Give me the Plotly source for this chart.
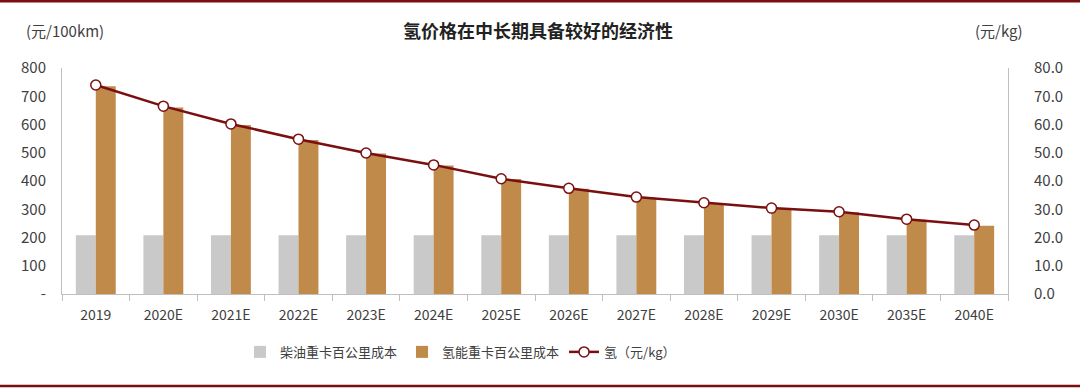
import plotly.graph_objects as go

categories = ["2019", "2020E", "2021E", "2022E", "2023E", "2024E", "2025E",
              "2026E", "2027E", "2028E", "2029E", "2030E", "2035E", "2040E"]
diesel_cost = [208, 208, 208, 208, 208, 208, 208, 208, 208, 208, 208, 208, 208, 208]
hydrogen_truck_cost = [735, 660, 598, 545, 497, 455, 407, 373, 341, 320, 303, 289, 263, 242]
hydrogen_price = [74.0, 66.5, 60.2, 54.8, 49.9, 45.7, 40.8, 37.4, 34.3, 32.3, 30.4, 29.1, 26.5, 24.4]

left_ticks = [0, 100, 200, 300, 400, 500, 600, 700, 800]
left_tick_text = ["-", "100", "200", "300", "400", "500", "600", "700", "800"]
right_ticks = [0, 10, 20, 30, 40, 50, 60, 70, 80]
right_tick_text = ["0.0", "10.0", "20.0", "30.0", "40.0", "50.0", "60.0", "70.0", "80.0"]

FONT = "Noto Sans CJK SC, Noto Sans, sans-serif"
TXT = "#404040"
DARKRED = "#7A0F12"
M_T, M_B, M_L, M_R = 68, 95, 62, 72
PLOT_H = 389 - M_T - M_B
PLOT_W = 1080 - M_L - M_R

fig = go.Figure()
fig.add_trace(go.Bar(x=categories, y=diesel_cost, name="柴油重卡百公里成本",
                     marker=dict(color="#C9C9C9", line=dict(width=0))))
fig.add_trace(go.Bar(x=categories, y=hydrogen_truck_cost, name="氢能重卡百公里成本",
                     marker=dict(color="#C08A4A", line=dict(width=0))))
fig.add_trace(go.Scatter(x=categories, y=hydrogen_price, name="氢（元/kg）", yaxis="y2",
                         mode="lines+markers",
                         line=dict(color=DARKRED, width=2.5),
                         marker=dict(size=10, color="white", line=dict(color=DARKRED, width=1.5))))

fig.update_layout(
    template="none",
    width=1080, height=389,
    margin=dict(l=M_L, r=M_R, t=M_T, b=M_B, autoexpand=False),
    paper_bgcolor="white", plot_bgcolor="white",
    font=dict(family=FONT, size=14, color=TXT),
    barmode="group", bargap=0.41, bargroupgap=0,
    showlegend=True,
    legend=dict(orientation="h", x=(240 - M_L) / PLOT_W, xanchor="left", y=-0.19, yanchor="top",
                font=dict(size=13, color=TXT), traceorder="normal", itemwidth=30,
                tracegroupgap=0),
    xaxis=dict(type="category", range=[-0.5, len(categories) - 0.5],
               showline=True, linecolor="#BFBFBF", linewidth=1,
               ticks="outside", tickson="boundaries", ticklen=6, tickcolor="#BFBFBF",
               tickfont=dict(size=14, color=TXT), showgrid=False, automargin=False,
               ticklabelstandoff=8),
    yaxis=dict(range=[0, 800], tickvals=left_ticks, ticktext=left_tick_text,
               showline=True, linecolor="#BFBFBF", linewidth=1, showgrid=False,
               tickfont=dict(size=15, color=TXT), zeroline=False, automargin=False,
               ticks="", ticklabelstandoff=12),
    yaxis2=dict(range=[0, 80], tickvals=right_ticks, ticktext=right_tick_text,
                overlaying="y", side="right", showline=True, linecolor="#BFBFBF",
                linewidth=1, showgrid=False, tickfont=dict(size=15, color=TXT),
                zeroline=False, automargin=False, ticks="", ticklabelstandoff=22),
)

fig.add_annotation(text="<b>氢价格在中长期具备较好的经济性</b>", xref="paper", yref="paper",
                   x=(538 - M_L) / PLOT_W, y=1.0, yshift=38, xanchor="center", yanchor="middle",
                   showarrow=False, font=dict(size=18, color="#222222"))
fig.add_annotation(text="(元/100km)", xref="paper", yref="paper", x=0, xshift=-38,
                   y=1.0, yshift=38, xanchor="left", yanchor="middle",
                   showarrow=False, font=dict(size=15, color=TXT))
fig.add_annotation(text="(元/kg)", xref="paper", yref="paper", x=1.0, xshift=17,
                   y=1.0, yshift=38, xanchor="right", yanchor="middle",
                   showarrow=False, font=dict(size=15, color=TXT))

# dark red rules at top and bottom of the page
fig.add_shape(type="line", xref="paper", yref="paper", x0=-0.07, x1=1.08,
              y0=(PLOT_H + M_T - 1) / PLOT_H, y1=(PLOT_H + M_T - 1) / PLOT_H,
              line=dict(color=DARKRED, width=3))
fig.add_shape(type="line", xref="paper", yref="paper", x0=-0.07, x1=1.08,
              y0=-(M_B - 3) / PLOT_H, y1=-(M_B - 3) / PLOT_H,
              line=dict(color=DARKRED, width=2.5))

fig.write_html("out.html", config={"displayModeBar": False},
               post_script="document.body.style.margin='0';")
